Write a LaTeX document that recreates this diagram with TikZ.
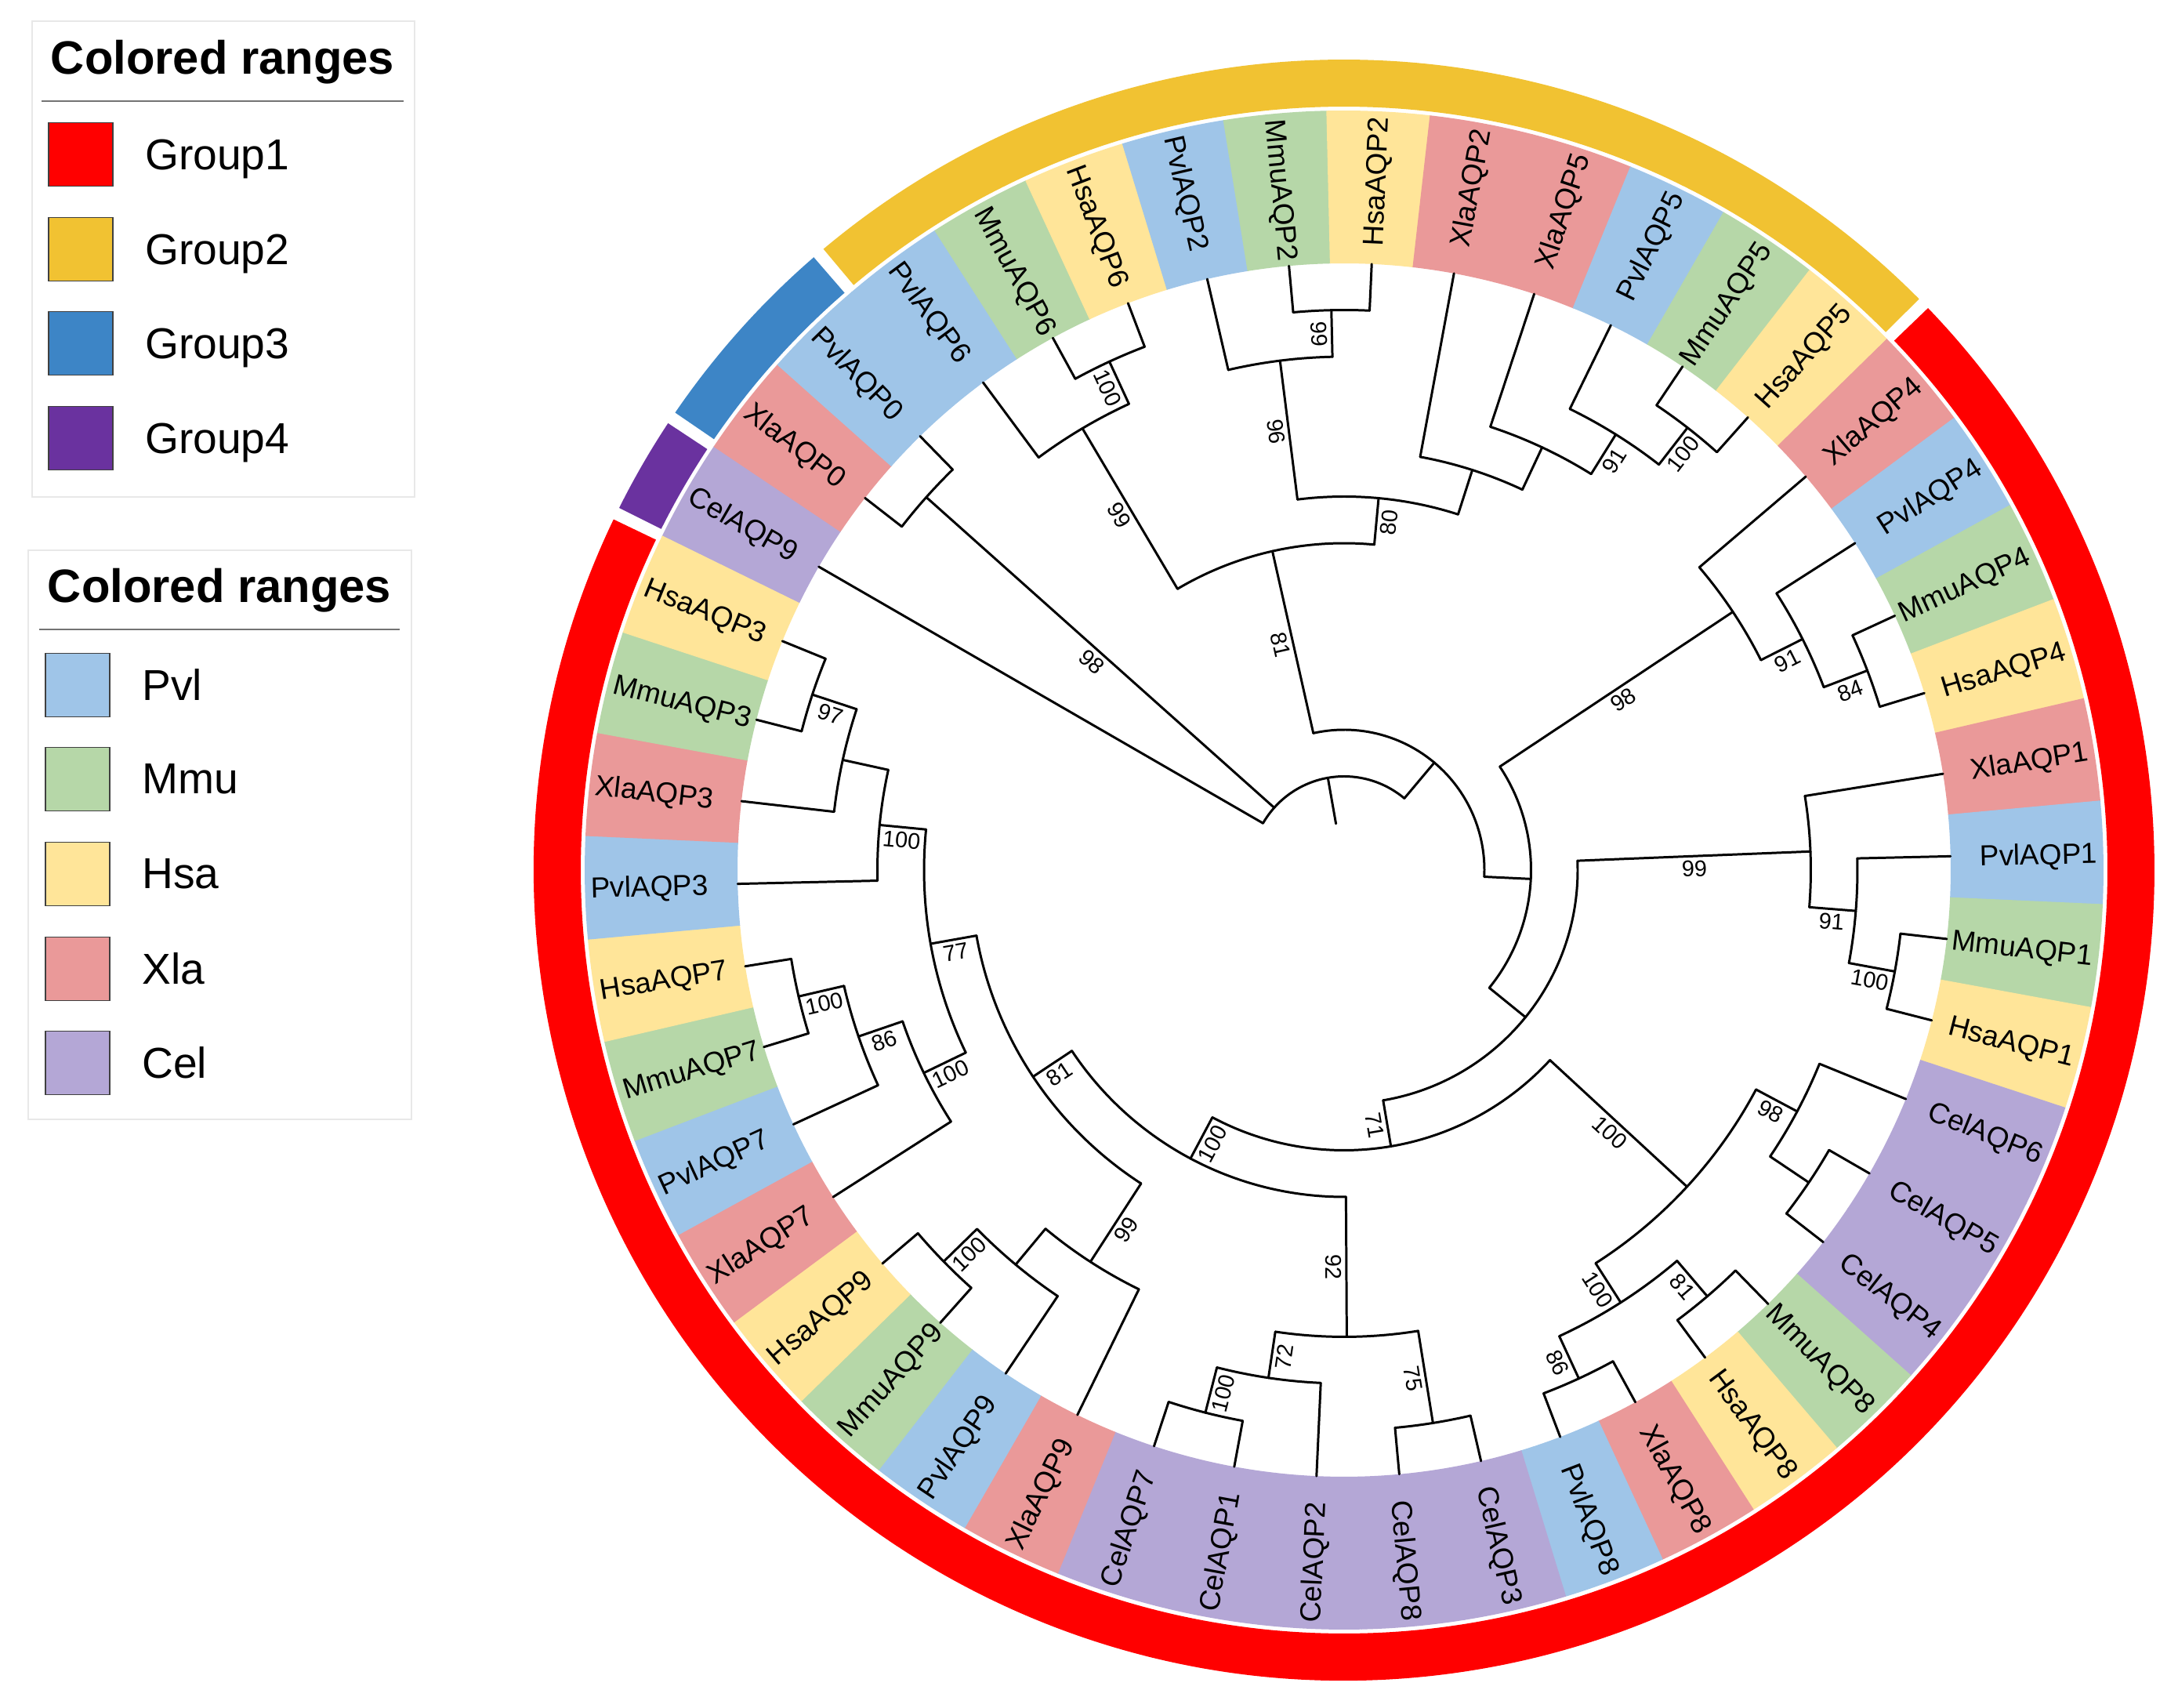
\documentclass[tikz,border=0pt]{standalone}
\usepackage{fontspec}
\setmainfont{Liberation Sans}
\usetikzlibrary{positioning}
\definecolor{pvlblue}{HTML}{9FC5E8}
\definecolor{mmugreen}{HTML}{B6D7A8}
\definecolor{hsayellow}{HTML}{FFE599}
\definecolor{xlapink}{HTML}{EA9999}
\definecolor{celpurple}{HTML}{B4A7D6}
\definecolor{grpred}{HTML}{FF0000}
\definecolor{grpgold}{HTML}{F1C232}
\definecolor{grpblue}{HTML}{3D85C6}
\definecolor{grpviolet}{HTML}{6A329F}
\begin{document}
\begin{tikzpicture}[
    branch/.style={line width=0.85pt, line cap=round, line join=round},
    leaflabel/.style={font=\fontsize{10.5}{12}\selectfont, inner sep=0pt, text depth=0pt},
    support/.style={font=\fontsize{8.2}{10}\selectfont, inner sep=1.5pt, anchor=north},
    legendframe/.style={draw=black!9, line width=0.5pt},
    legendrule/.style={draw=black!55, line width=0.7pt},
    legendtitle/.style={font=\fontsize{17}{20}\selectfont\bfseries, anchor=base},
    legendtext/.style={font=\fontsize{15.7}{18}\selectfont, text depth=0pt},
    swatch/.style={draw=black!75, line width=0.5pt, minimum width=0.82cm, minimum height=0.81cm, inner sep=0pt}
]
\useasboundingbox (0,0) rectangle (27.79,21.79);
\fill[white] (0,0) rectangle (27.79,21.79);

\draw[legendframe] (0.41,15.45) rectangle (5.29,21.52);
\node[legendtitle] (titlegroup) at (2.84,20.84) {Colored ranges};
\draw[legendrule] (0.53,20.50) -- (5.15,20.50);
\node[swatch, fill=grpred] (keyone) at (1.03,19.82) {};
\node[legendtext, right=0.28cm of keyone] (txtone) {Group1};
\node[swatch, fill=grpgold] (keytwo) at (1.03,18.61) {};
\node[legendtext, right=0.28cm of keytwo] (txttwo) {Group2};
\node[swatch, fill=grpblue] (keythree) at (1.03,17.41) {};
\node[legendtext, right=0.28cm of keythree] (txtthree) {Group3};
\node[swatch, fill=grpviolet] (keyfour) at (1.03,16.20) {};
\node[legendtext, right=0.28cm of keyfour] (txtfour) {Group4};

\draw[legendframe] (0.36,7.51) rectangle (5.25,14.77);
\node[legendtitle] (titlespecies) at (2.80,14.10) {Colored ranges};
\draw[legendrule] (0.50,13.76) -- (5.10,13.76);
\node[swatch, fill=pvlblue] (keypvl) at (0.99,13.05) {};
\node[legendtext, right=0.28cm of keypvl] (txtpvl) {Pvl};
\node[swatch, fill=mmugreen] (keymmu) at (0.99,11.85) {};
\node[legendtext, right=0.28cm of keymmu] (txtmmu) {Mmu};
\node[swatch, fill=hsayellow] (keyhsa) at (0.99,10.64) {};
\node[legendtext, right=0.28cm of keyhsa] (txthsa) {Hsa};
\node[swatch, fill=xlapink] (keyxla) at (0.99,9.43) {};
\node[legendtext, right=0.28cm of keyxla] (txtxla) {Xla};
\node[swatch, fill=celpurple] (keycel) at (0.99,8.23) {};
\node[legendtext, right=0.28cm of keycel] (txtcel) {Cel};

\begin{scope}[shift={(17.15,10.69)}]
  \foreach \ringS/\ringE/\ringC in {153.46/146.54/grpviolet, 145.64/130.88/grpblue, 129.98/44.80/grpgold, 43.90/-205.64/grpred}
    \fill[\ringC] (\ringS:9.74) arc[start angle=\ringS, end angle=\ringE, radius=9.74] -- (\ringE:10.34) arc[start angle=\ringE, end angle=\ringS, radius=10.34] -- cycle;

  \foreach \lf/\sp/\nm/\up in {1/celpurple/CelAQP9/11, 2/xlapink/XlaAQP0/1, 3/pvlblue/PvlAQP0/1,
      4/pvlblue/PvlAQP6/2, 5/mmugreen/MmuAQP6/1, 6/hsayellow/HsaAQP6/1, 7/pvlblue/PvlAQP2/2,
      8/mmugreen/MmuAQP2/1, 9/hsayellow/HsaAQP2/1, 10/xlapink/XlaAQP2/4, 11/xlapink/XlaAQP5/3,
      12/pvlblue/PvlAQP5/2, 13/mmugreen/MmuAQP5/1, 14/hsayellow/HsaAQP5/1, 15/xlapink/XlaAQP4/3,
      16/pvlblue/PvlAQP4/2, 17/mmugreen/MmuAQP4/1, 18/hsayellow/HsaAQP4/1, 19/xlapink/XlaAQP1/3,
      20/pvlblue/PvlAQP1/2, 21/mmugreen/MmuAQP1/1, 22/hsayellow/HsaAQP1/1, 23/celpurple/CelAQP6/2,
      24/celpurple/CelAQP5/1, 25/celpurple/CelAQP4/1, 26/mmugreen/MmuAQP8/1, 27/hsayellow/HsaAQP8/1,
      28/xlapink/XlaAQP8/1, 29/pvlblue/PvlAQP8/1, 30/celpurple/CelAQP3/1, 31/celpurple/CelAQP8/1,
      32/celpurple/CelAQP2/2, 33/celpurple/CelAQP1/1, 34/celpurple/CelAQP7/1, 35/xlapink/XlaAQP9/3,
      36/pvlblue/PvlAQP9/2, 37/mmugreen/MmuAQP9/1, 38/hsayellow/HsaAQP9/1, 39/xlapink/XlaAQP7/3,
      40/pvlblue/PvlAQP7/2, 41/mmugreen/MmuAQP7/1, 42/hsayellow/HsaAQP7/1, 43/pvlblue/PvlAQP3/3,
      44/xlapink/XlaAQP3/2, 45/mmugreen/MmuAQP3/1, 46/hsayellow/HsaAQP3/1}{
    \pgfmathsetmacro\angA{150-(\lf-1)*7.826087}
    \pgfmathsetmacro\angL{\angA+3.95}
    \pgfmathsetmacro\angR{\angA-3.95}
    \pgfmathtruncatemacro\flipF{cos(\angA)<0}
    \pgfmathsetmacro\rotR{\angA+180*\flipF}
    \fill[\sp] (\angL:7.74) arc[start angle=\angL, end angle=\angR, radius=7.74] -- (\angR:9.69) arc[start angle=\angR, end angle=\angL, radius=9.69] -- cycle;
    \draw[branch] (\angA:{7.74-0.595*\up}) -- (\angA:7.74) coordinate (tip\lf);
    \ifnum\flipF=1
      \node[leaflabel, rotate=\rotR, anchor=west] (lab\lf) at (\angA:9.62) {\nm};
    \else
      \node[leaflabel, rotate=\rotR, anchor=east] (lab\lf) at (\angA:9.62) {\nm};
    \fi
  }

  \foreach \nd/\k/\h/\up/\bs in {root/7.390625/11/12/0, nzero/2.5/1/11/98, na/13.78125/10/11/0,
      ny/7.046875/6/10/81, psix/4.75/2/6/99, hsix/5.5/1/2/100, nx/9.34375/5/6/80, ptwo/7.75/2/5/96,
      htwo/8.5/1/2/99, nt/10.9375/4/5/0, nu/11.875/3/4/0, nv/12.75/2/3/91, nw/13.5/1/2/100,
      nb/20.515625/9/10/0, qfour/15.875/3/9/98, rfour/16.75/2/3/91, sfour/17.5/1/2/84,
      nc/25.15625/8/9/0, qone/19.875/3/8/99, rone/20.75/2/3/91, hone/21.5/1/2/100,
      nd/30.4375/7/8/71, nf/25.625/3/7/100, csix/23.75/2/3/98, cfive/24.5/1/2/0,
      neight/27.5/2/3/100, meight/26.5/1/2/81, xeight/28.5/1/2/86,
      ne/35.25/6/7/100, nk/31.625/3/6/92, nm/30.5/1/3/75, nl/32.75/2/3/72, cseven/33.5/1/2/100,
      ni/38.875/5/6/81, nj/35.875/3/5/99, pnine/36.75/2/3/0, hnine/37.5/1/2/100,
      ng/41.875/4/5/77, xseven/39.875/3/4/100, pseven/40.75/2/3/86, hseven/41.5/1/2/100,
      pthree/43.875/3/4/100, xthree/44.75/2/3/0, hthree/45.5/1/2/97}{
    \pgfmathsetmacro\angA{150-(\k-1)*7.826087}
    \pgfmathtruncatemacro\flipF{cos(\angA)<0}
    \pgfmathsetmacro\rotR{\angA+180*\flipF}
    \draw[branch] (\angA:{7.74-0.595*\up}) -- (\angA:{7.74-0.595*\h}) coordinate (\nd);
    \ifnum\bs>0
      \node[support, rotate=\rotR] (bs\nd) at (\angA:{7.74-0.2975*(\h+\up)}) {\bs};
    \fi
  }

  \foreach \k/\l/\h in {1/13.78125/11, 2/3/1, 7.046875/20.515625/10, 4.75/9.34375/6, 4/5.5/2, 5/6/1,
      7.75/10.9375/5, 7/8.5/2, 8/9/1, 10/11.875/4, 11/12.75/3, 12/13.5/2, 13/14/1,
      15.875/25.15625/9, 15/16.75/3, 16/17.5/2, 17/18/1, 19.875/30.4375/8, 19/20.75/3, 20/21.5/2, 21/22/1,
      25.625/35.25/7, 23.75/27.5/3, 23/24.5/2, 24/25/1, 26.5/28.5/2, 26/27/1, 28/29/1,
      31.625/38.875/6, 30.5/32.75/3, 30/31/1, 32/33.5/2, 33/34/1,
      35.875/41.875/5, 35/36.75/3, 36/37.5/2, 37/38/1,
      39.875/43.875/4, 39/40.75/3, 40/41.5/2, 41/42/1, 43/44.75/3, 44/45.5/2, 45/46/1}{
    \pgfmathsetmacro\angA{150-(\k-1)*7.826087}
    \pgfmathsetmacro\angB{150-(\l-1)*7.826087}
    \pgfmathsetmacro\radR{7.74-0.595*\h}
    \draw[branch] (\angA:\radR) arc[start angle=\angA, end angle=\angB, radius=\radR];
  }
\end{scope}
\end{tikzpicture}
\end{document}
